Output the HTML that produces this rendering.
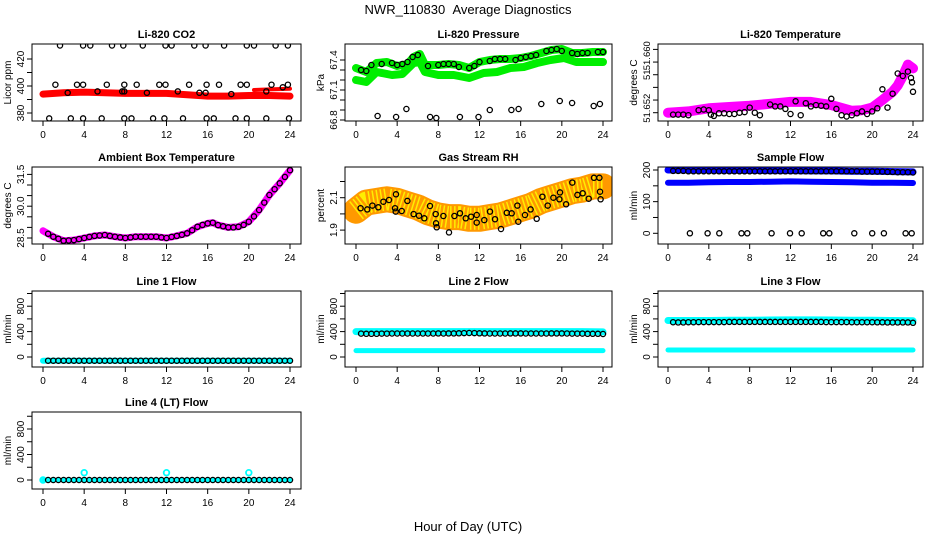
<!DOCTYPE html>
<html><head><meta charset="utf-8"><title>NWR_110830 Average Diagnostics</title>
<style>
html,body{margin:0;padding:0;background:#fff;}
svg{display:block;font-family:"Liberation Sans",Arial,sans-serif;}
</style></head>
<body>
<svg id="chart" width="936" height="540" viewBox="0 0 936 540" xmlns="http://www.w3.org/2000/svg">
<text x="468" y="14" text-anchor="middle" font-size="13">NWR_110830&#160;&#160;Average Diagnostics</text>
<text x="468" y="531" text-anchor="middle" font-size="13">Hour of Day (UTC)</text>
</svg>
<script>
// ---------- shared ----------
const xTicks = [0,4,8,12,16,20,24];
const halfHours = [0.5,1,1.5,2,2.5,3,3.5,4,4.5,5,5.5,6,6.5,7,7.5,8,8.5,9,9.5,10,10.5,11,11.5,12,12.5,13,13.5,14,14.5,15,15.5,16,16.5,17,17.5,18,18.5,19,19.5,20,20.5,21,21.5,22,22.5,23,23.5,24];
const bandHours = [0,2,4,6,8,10,12,14,16,18,20,22,24];

// ---------- Li-820 CO2 ----------
const co2BandVals = [394,395,395.5,395,394.5,394.5,394.5,393.5,392.5,392.5,393,393,392.5];
const co2Band2Hours = [20.5,22,24];
const co2Band2Vals = [397,397.5,398];
const co2TopHours = [1.65,3.9,4.6,6.7,7.8,9.7,11.9,12.5,14.7,15.8,17.6,19.8,20.5,22.6,23.8];
const co2TopVals = [430,430,430,430,430,430,430,430,430,430,430,430,430,430,430];
const co2MidHours = [1.2,3.3,3.9,6.2,7.9,9.1,11.3,11.9,14.2,15.9,17.1,19.2,19.8,22.2,23.8];
const co2MidVals = [401,401,401,401,401,401,401,401,401,401,401,401,401,401,401];
const co2LowHours = [0.6,2.7,3.9,5.7,7.9,8.6,10.7,11.8,13.6,15.9,16.6,18.7,19.8,21.7,23.9];
const co2LowVals = [376,376,376,376,376,376,376,376,376,376,376,376,376,376,376];
const co2OnHours = [2.4,5.3,7.7,7.9,10.1,13.1,15.2,15.8,18.3,21.7,23.3];
const co2OnVals = [395,396,396,396,395,396,395,395,394,396,399];

// ---------- Li-820 Pressure ----------
const presUpHours = [0,1,2,3,4,5,5.6,6.2,6.7,8,9,10,11,12,13,14,15,16,17,18,19,20,21,22,23,24];
const presUpVals = [67.32,67.28,67.37,67.38,67.34,67.36,67.43,67.46,67.35,67.35,67.36,67.35,67.32,67.38,67.40,67.41,67.41,67.42,67.44,67.47,67.50,67.51,67.47,67.47,67.48,67.48];
const presLoHours = [0,1,2,3.5,4.5,5.6,6.2,6.7,8,9.5,11,12.4,13.7,15,16.3,17.6,18.9,20.2,21.4,22.7,24];
const presLoVals = [67.20,67.18,67.28,67.25,67.26,67.37,67.38,67.28,67.25,67.25,67.22,67.27,67.28,67.32,67.33,67.37,67.40,67.42,67.38,67.38,67.38];
const presCircHours = [0.5,1,1.5,2.5,3.5,4,4.5,5,5.5,6,7,8,8.5,9,9.5,10,11,11.5,12,13,13.5,14,14.5,15.5,16,16.5,17,17.5,18.5,19,19.5,20,21,21.5,22,22.5,23.5,24];
const presCircVals = [67.30,67.29,67.35,67.36,67.37,67.35,67.36,67.38,67.43,67.45,67.34,67.35,67.36,67.36,67.36,67.33,67.32,67.34,67.38,67.39,67.41,67.41,67.41,67.40,67.42,67.43,67.44,67.45,67.49,67.50,67.51,67.49,67.47,67.46,67.47,67.47,67.48,67.48];
const presLowHours = [2.1,3.9,4.9,7.2,7.8,10.1,11.9,13.0,15.1,15.8,18.0,19.8,21.0,23.1,23.7];
const presLowVals = [66.84,66.83,66.91,66.83,66.82,66.83,66.83,66.90,66.90,66.91,66.96,66.99,66.97,66.94,66.96];

// ---------- Li-820 Temperature ----------
const tempBandHours = [0,2,4,6,8,10,12,14,16,18,19,20,21,22,22.5,23,23.5,24];
const tempBandVals = [51.6500,51.6502,51.6507,51.6509,51.6511,51.6514,51.6517,51.6517,51.6512,51.6503,51.6504,51.6508,51.6520,51.6533,51.6543,51.6558,51.6576,51.6570];
const tempCircHours = [0.5,1,1.5,2,3,3.5,4,4.2,4.5,5,5.5,6,6.5,7,7.5,8,8.5,9,10,10.5,11,11.5,12,12.5,13,13.5,14,14.5,15,15.5,16,16.5,17,17.5,18,18.5,19,19.5,20,20.5,21,21.5,22,22.5,23,23.5,23.8,23.9,24];
const tempCircVals = [51.6497,51.6497,51.6497,51.6496,51.6504,51.6505,51.6504,51.6497,51.6495,51.6499,51.6499,51.6498,51.6498,51.6500,51.6501,51.6508,51.6500,51.6496,51.6513,51.6510,51.6510,51.6506,51.6498,51.6518,51.6496,51.6515,51.6510,51.6512,51.6511,51.6510,51.6522,51.6506,51.6496,51.6494,51.6496,51.6499,51.6502,51.6498,51.6502,51.6507,51.6537,51.6508,51.6530,51.6562,51.6558,51.6565,51.6555,51.6548,51.6533];

// ---------- Ambient Box Temperature ----------
const ambHours = [0,1,2,3,4,5,6,7,8,9,10,11,12,13,14,15,16,16.5,17,18,19,20,21,22,23,24];
const ambVals = [28.84,28.56,28.37,28.40,28.50,28.60,28.64,28.56,28.50,28.56,28.56,28.56,28.50,28.60,28.72,29.03,29.19,29.22,29.11,29.00,29.03,29.27,29.82,30.53,31.08,31.70];
const ambCircHours = [0.5,1,1.5,2,2.5,3,3.5,4,4.5,5,5.5,6,6.5,7,7.5,8,8.5,9,9.5,10,10.5,11,11.5,12,12.5,13,13.5,14,14.5,15,15.5,16,16.5,17,17.5,18,18.5,19,19.5,20,20.5,21,21.5,22,22.5,23,23.5,24];
const ambCircVals = [28.70,28.56,28.46,28.37,28.38,28.40,28.45,28.50,28.55,28.60,28.62,28.64,28.60,28.56,28.53,28.50,28.53,28.56,28.56,28.56,28.56,28.56,28.53,28.50,28.55,28.60,28.65,28.72,28.87,29.03,29.12,29.19,29.22,29.11,29.05,29.00,29.00,29.03,29.12,29.27,29.52,29.82,30.17,30.53,30.80,31.08,31.38,31.70];

// ---------- Gas Stream RH ----------
const rhBandHours = [0,1,2,3,4,5,6,7,8,9,10,11,12,13,14,15,16,17,18,19,20,21,22,23,24];
const rhBandVals = [2.02,2.07,2.08,2.09,2.08,2.06,2.04,2.01,1.99,1.98,1.98,1.97,1.97,1.98,1.99,2.01,2.03,2.05,2.08,2.10,2.12,2.14,2.15,2.17,2.17];
const rhCircHours = [0.45,1.10,1.59,2.17,2.66,3.21,3.89,3.79,3.86,4.44,4.99,5.60,6.12,6.64,7.19,7.74,7.77,7.84,8.49,9.04,9.56,10.11,10.66,11.18,11.73,11.73,12.47,13.02,13.51,14.09,14.65,15.13,15.68,15.77,16.42,16.97,17.56,18.11,18.63,19.18,19.76,19.82,20.41,21.02,21.51,22.03,22.61,23.13,23.65,23.71,23.77];
const rhCircVals = [2.035,2.028,2.051,2.041,2.075,2.086,2.121,2.035,2.014,2.018,2.080,1.999,1.989,1.973,2.049,1.999,1.942,1.917,1.987,1.886,1.987,2.004,1.973,1.983,1.993,1.946,1.962,2.014,1.967,1.907,2.007,2.004,2.051,1.952,1.993,2.028,1.970,2.106,2.051,2.100,2.090,2.133,2.059,2.193,2.117,2.127,2.094,2.223,2.223,2.137,2.090];

// ---------- Sample Flow ----------
const sfUpVals = [200,200,200,199,199,198,198,197,197,196,196,195,194];
const sfLoVals = [160,160,161,162,162,163,164,163,162,161,160,160,159];
const sfCircVals = [197,197,197,196,196,196,196,196,196,196,196,196,196,196,196,196,196,196,196,196,196,196,196,196,196,196,196,196,196,196,196,196,196,196,196,196,196,195,195,195,195,195,194,194,193,193,193,192];
const sfZeroHours = [2.15,3.88,5.03,7.2,7.77,10.15,11.95,13.1,15.2,15.8,18.25,20.0,21.15,23.28,23.87];
const sfZeroVals = [0,0,0,0,0,0,0,0,0,0,0,0,0,0,0];

// ---------- Line flows ----------
const l1BandVals = [-58,-58,-58,-58,-58,-58,-58,-58,-58,-58,-58,-58,-58];
const l1CircVals = [-58,-58,-58,-58,-58,-58,-58,-58,-58,-58,-58,-58,-58,-58,-58,-58,-58,-58,-58,-58,-58,-58,-58,-58,-58,-58,-58,-58,-58,-58,-58,-58,-58,-58,-58,-58,-58,-58,-58,-58,-58,-58,-58,-58,-58,-58,-58,-58];
const l2UpVals = [400,400,400,400,400,400,400,400,400,400,400,400,395];
const l2LoVals = [100,100,100,100,100,100,100,100,100,100,100,100,100];
const l2CircVals = [368,365,365,365,368,368,370,370,370,370,370,370,370,370,370,372,370,372,372,374,376,378,376,374,372,370,370,370,370,372,372,372,370,370,370,370,370,372,372,372,370,368,368,368,366,366,366,362];
const l3UpVals = [575,575,575,578,580,582,585,585,582,580,578,575,570];
const l3LoVals = [110,110,110,110,110,110,110,110,110,110,110,110,110];
const l3CircVals = [548,545,545,548,548,550,550,550,550,550,550,552,552,552,552,552,552,552,552,552,552,552,552,552,552,552,552,552,552,552,550,550,550,550,550,548,548,548,548,548,546,546,545,545,545,545,545,538];
const l4BandVals = [0,0,0,0,0,0,0,0,0,0,0,0,0];
const l4SpikeHours = [0,4,12,20];
const l4SpikeVals = [0,115,115,115];
const l4CircVals = [0,0,0,0,0,0,0,0,0,0,0,0,0,0,0,0,0,0,0,0,0,0,0,0,0,0,0,0,0,0,0,0,0,0,0,0,0,0,0,0,0,0,0,0,0,0,0,0];

// ---------- axis ticks ----------
const co2Ticks = [380,390,400,410,420]; const co2Labels = ['380','','400','','420'];
const presTicks = [66.8,66.9,67.0,67.1,67.2,67.3,67.4]; const presLabels = ['66.8','','','67.1','','','67.4'];
const tempTicks = [51.650,51.652,51.654,51.656,51.658,51.660]; const tempLabels = ['','','','','',''];
const tempLabelVals = [51.6507,51.6560,51.6590]; const tempLabelText = ['51.652','51','51.660'];
const ambTicks = [28.5,29.0,29.5,30.0,30.5,31.0,31.5]; const ambLabels = ['28.5','','','30.0','','','31.5'];
const rhTicks = [1.9,2.0,2.1,2.2]; const rhLabels = ['1.9','','2.1',''];
const sfTicks = [0,50,100,150,200]; const sfLabels = ['0','','100','','200'];
const flowTicks = [0,200,400,600,800,1000]; const flowLabels = ['0','','400','','800',''];

// ---------- layout ----------
const NS = 'http://www.w3.org/2000/svg';
const svg = document.getElementById('chart');
const COLS = [{l:32,r:301,x0:43,x24:290},{l:345,r:612,x0:356,x24:603},{l:658,r:923,x0:668,x24:913}];
const ROWS = [{t:44,b:121},{t:167,b:244},{t:291,b:367},{t:412,b:489}];

function mk(tag, attrs, parent){
  const e = document.createElementNS(NS, tag);
  for (const k in attrs) e.setAttribute(k, attrs[k]);
  (parent||svg).appendChild(e);
  return e;
}

function panel(name, title, ylab, col, row, yA, yB, ticks, labels){
  const C = COLS[col], R = ROWS[row];
  const g = mk('g', {});
  
  
  const xs = h => C.x0 + (C.x24 - C.x0) * h / 24;
  const ys = v => yA[1] + (v - yA[0]) * (yB[1] - yA[1]) / (yB[0] - yA[0]);
  const t = mk('text', {x:(C.l+C.r)/2, y:R.t-6, 'text-anchor':'middle', 'font-size':11, 'font-weight':'bold'}, g);
  t.textContent = title;
  
  
  const yl = mk('text', {x:0, y:0, 'text-anchor':'middle', 'font-size':10, transform:`translate(${C.l-21},${(R.t+R.b)/2}) rotate(-90)`}, g);
  yl.textContent = ylab;
  
  
  const xa = mk('g', {}, g);
  
  
  mk('line', {x1:xs(0), x2:xs(24), y1:R.b, y2:R.b, stroke:'#000'}, xa);
  xTicks.forEach(h => {
    mk('line', {x1:xs(h), x2:xs(h), y1:R.b, y2:R.b+5, stroke:'#000'}, xa);
    const tl = mk('text', {x:xs(h), y:R.b+17, 'text-anchor':'middle', 'font-size':10}, xa);
    tl.textContent = String(h);
  });
  const ya = mk('g', {}, g);
  
  
  ticks.forEach((v, i) => {
    const y = ys(v);
    mk('line', {x1:C.l-5, x2:C.l, y1:y, y2:y, stroke:'#000'}, ya);
    if (labels[i]) {
      const tl = mk('text', {x:0, y:0, 'text-anchor':'middle', 'font-size':10, transform:`translate(${C.l-8},${y}) rotate(-90)`}, ya);
      tl.textContent = labels[i];
    }
  });
  const clip = 'clip-' + name;
  const cp = mk('clipPath', {id:clip}, g);
  mk('rect', {x:C.l, y:R.t, width:C.r-C.l, height:R.b-R.t}, cp);
  const plot = mk('g', {'clip-path':`url(#${clip})`}, g);
  
  
  const box = mk('rect', {x:C.l, y:R.t, width:C.r-C.l, height:R.b-R.t, fill:'none', stroke:'#000'}, g);
  
  
  return {xs, ys, plot, ya, C};
}

function band(P, hours, vals, color, w, nm){
  const pts = hours.map((h, i) => P.xs(h).toFixed(1) + ',' + P.ys(vals[i]).toFixed(1)).join(' ');
  const pl = mk('polyline', {points:pts, fill:'none', stroke:color, 'stroke-width':w, 'stroke-linecap':'round', 'stroke-linejoin':'round'}, P.plot);
  
  
  return pl;
}
function circles(P, hours, vals, color, nm, r, sw){
  const g = mk('g', {}, P.plot);
  
  
  hours.forEach((h, i) => {
    const c = mk('circle', {cx:P.xs(h).toFixed(1), cy:P.ys(vals[i]).toFixed(1), r:r||2.6, fill:'none', stroke:color, 'stroke-width':sw||1.3}, g);
    
    
  });
}

// Panel 1
let P = panel('co2', 'Li-820 CO2', 'Licor ppm', 0, 0, [400,86], [420,59], co2Ticks, co2Labels);
band(P, bandHours, co2BandVals, '#ff0000', 7, 'co2-red-series');
band(P, co2Band2Hours, co2Band2Vals, '#ff0000', 4, 'co2-red-series-upper');
circles(P, co2TopHours, co2TopVals, '#000', 'co2-high-points');
circles(P, co2MidHours, co2MidVals, '#000', 'co2-mid-points');
circles(P, co2LowHours, co2LowVals, '#000', 'co2-low-points');
circles(P, co2OnHours, co2OnVals, '#000', 'co2-average-points');

// Panel 2
P = panel('pressure', 'Li-820 Pressure', 'kPa', 1, 0, [67.4,60], [67.1,90], presTicks, presLabels);
band(P, presUpHours, presUpVals, '#00ee00', 8, 'pressure-upper-series');
band(P, presLoHours, presLoVals, '#00ee00', 8, 'pressure-lower-series');
circles(P, presCircHours, presCircVals, '#000', 'pressure-average-points');
circles(P, presLowHours, presLowVals, '#000', 'pressure-low-points');

// Panel 3
P = panel('licor-temp', 'Li-820 Temperature', 'degrees C', 2, 0, [51.650,112.7], [51.660,49.4], tempTicks, tempLabels);
tempLabelVals.forEach((v, i) => {
  const tl = mk('text', {x:0, y:0, 'text-anchor':'middle', 'font-size':9.5, transform:`translate(${P.C.l-8},${P.ys(v)}) rotate(-90)`}, P.ya);
  tl.textContent = tempLabelText[i];
});
band(P, tempBandHours, tempBandVals, '#ff00ff', 10, 'licor-temp-series');
circles(P, tempCircHours, tempCircVals, '#000', 'licor-temp-average-points');

// Panel 4
P = panel('ambient', 'Ambient Box Temperature', 'degrees C', 0, 1, [28.5,238], [30.0,206.2], ambTicks, ambLabels);
band(P, ambHours, ambVals, '#ff00ff', 7, 'ambient-series');
circles(P, ambCircHours, ambCircVals, '#000', 'ambient-average-points');

// Panel 5
P = panel('rh', 'Gas Stream RH', 'percent', 1, 1, [2.1,197.7], [1.9,230.1], rhTicks, rhLabels);
band(P, rhBandHours, rhBandVals, '#ff9900', 26, 'rh-series');
const rhTex = band(P, rhBandHours, rhBandVals, '#ffee00', 22, 'rh-series-fill');
rhTex.setAttribute('stroke-dasharray', '1.5 2.5');
rhTex.setAttribute('stroke-linecap', 'butt');
circles(P, rhCircHours, rhCircVals, '#000', 'rh-average-points');

// Panel 6
P = panel('sample-flow', 'Sample Flow', 'ml/min', 2, 1, [0,233.3], [200,170], sfTicks, sfLabels);
band(P, bandHours, sfUpVals, '#0000ff', 7, 'sample-flow-upper-series');
band(P, bandHours, sfLoVals, '#0000ff', 6, 'sample-flow-lower-series');
circles(P, halfHours, sfCircVals, '#000', 'sample-flow-average-points');
circles(P, sfZeroHours, sfZeroVals, '#000', 'sample-flow-zero-points');

// Line 1
P = panel('line1', 'Line 1 Flow', 'ml/min', 0, 2, [0,357], [800,306.2], flowTicks, flowLabels);
band(P, bandHours, l1BandVals, '#00ffff', 6, 'line1-series');
circles(P, halfHours, l1CircVals, '#000', 'line1-average-points');

// Line 2
P = panel('line2', 'Line 2 Flow', 'ml/min', 1, 2, [0,357], [800,306.2], flowTicks, flowLabels);
band(P, bandHours, l2UpVals, '#00ffff', 7, 'line2-upper-series');
band(P, bandHours, l2LoVals, '#00ffff', 5, 'line2-lower-series');
circles(P, halfHours, l2CircVals, '#000', 'line2-average-points');

// Line 3
P = panel('line3', 'Line 3 Flow', 'ml/min', 2, 2, [0,357], [800,306.2], flowTicks, flowLabels);
band(P, bandHours, l3UpVals, '#00ffff', 7, 'line3-upper-series');
band(P, bandHours, l3LoVals, '#00ffff', 5, 'line3-lower-series');
circles(P, halfHours, l3CircVals, '#000', 'line3-average-points');

// Line 4
P = panel('line4', 'Line 4 (LT) Flow', 'ml/min', 0, 3, [0,480], [800,429], flowTicks, flowLabels);
band(P, bandHours, l4BandVals, '#00ffff', 4, 'line4-series');
circles(P, l4SpikeHours, l4SpikeVals, '#00ffff', 'line4-spike-points', 2.8, 1.8);
circles(P, halfHours, l4CircVals, '#000', 'line4-average-points');
</script>
</body></html>
